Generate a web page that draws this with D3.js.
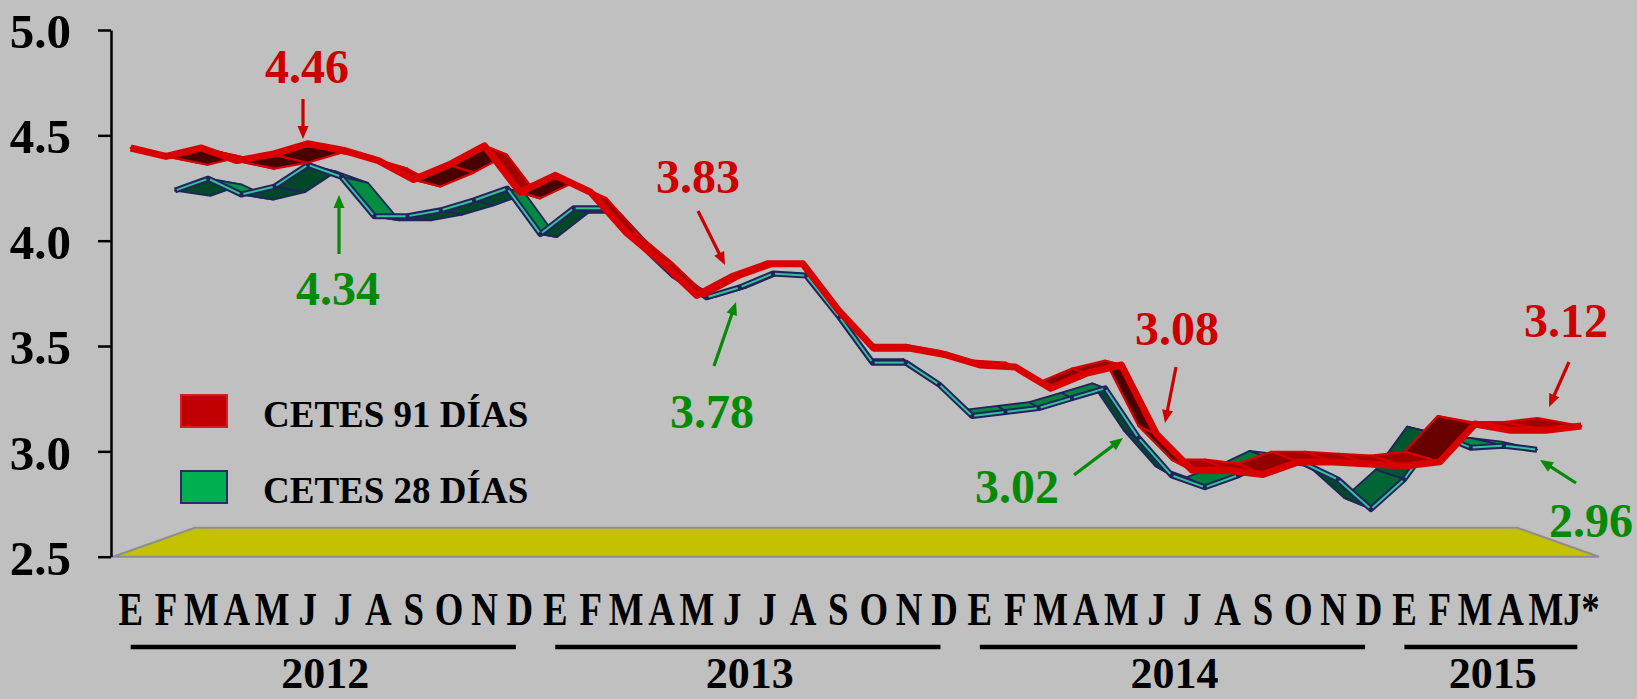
<!DOCTYPE html>
<html>
<head>
<meta charset="utf-8">
<script src="https://cdn.jsdelivr.net/npm/d3@7"></script>
<style>
html,body{margin:0;padding:0;background:#c0c0c0;}
svg{display:block;font-family:"Liberation Serif","Times New Roman",serif;font-weight:bold;}
</style>
</head>
<body>
<div id="chart"></div>
<script>
// datos mensuales, ene 2012 - jun 2015
var months = ["E","F","M","A","M","J","J","A","S","O","N","D",
              "E","F","M","A","M","J","J","A","S","O","N","D",
              "E","F","M","A","M","J","J","A","S","O","N","D",
              "E","F","M","A","M","J*"];
var years = ["2012","2013","2014","2015"];
var yearFirst = [0,12,24,36];
var yearLast = [11,23,35,41];

var cetes91 = [4.44,4.40,4.44,4.38,4.41,4.46,4.43,4.38,4.29,4.36,4.45,4.23,
               4.31,4.23,4.04,3.90,3.74,3.83,3.89,3.89,3.67,3.49,3.49,3.46,
               3.41,3.40,3.30,3.37,3.41,3.08,2.91,2.91,2.89,2.95,2.95,2.94,
               2.93,2.95,3.13,3.10,3.10,3.12];
var cetes28 = [4.27,4.33,4.25,4.29,4.40,4.34,4.14,4.14,4.17,4.22,4.28,4.05,
               4.18,4.18,4.00,3.84,3.73,3.78,3.85,3.84,3.63,3.40,3.40,3.29,
               3.13,3.15,3.17,3.22,3.27,3.02,2.83,2.77,2.83,2.91,2.89,2.81,
               2.66,2.81,3.04,2.97,2.98,2.96];
var yTicks = [2.5,3.0,3.5,4.0,4.5,5.0];
var seriesNames = ["CETES 91 DÍAS","CETES 28 DÍAS"];

// flechas con el dato señalado
var notes = [
  {s:0, i:5,  tx:307,  ty:83,  x1:303,  y1:99,  x2:303,  y2:139},
  {s:1, i:5,  tx:338,  ty:305, x1:339,  y1:254, x2:339,  y2:195},
  {s:0, i:17, tx:698,  ty:193, x1:698,  y1:211, x2:725,  y2:265},
  {s:1, i:17, tx:712,  ty:428, x1:714,  y1:366, x2:736,  y2:302},
  {s:0, i:29, tx:1177, ty:345, x1:1176, y1:367, x2:1165, y2:423},
  {s:1, i:29, tx:1017, ty:503, x1:1074, y1:475, x2:1123, y2:438},
  {s:0, i:41, tx:1566, ty:337, x1:1569, y1:362, x2:1549, y2:407},
  {s:1, i:41, tx:1591, ty:537, x1:1576, y1:483, x2:1540, y2:460}
];

var W = 1637, H = 699;
var VX = 856, VY = 294, K = 0.1236;   // punto de fuga / perspectiva

var svg = d3.select("#chart").append("svg")
    .attr("width", W).attr("height", H);
svg.append("rect").attr("width", W).attr("height", H).attr("fill", "#c0c0c0");

var x = d3.scalePoint().domain(d3.range(months.length)).range([113, 1599]).padding(0.5);
var y = d3.scaleLinear().domain([2.5, 5]).range([556.7, 30]);

function P(xf, yf, z){
    var f = 1 / (1 + K * z);
    return [VX + (xf - VX) * f, VY + (yf - VY) * f];
}

// piso
var xr = x.range(), y0 = y(2.5);
svg.append("polygon")
    .attr("points", [P(xr[0], y0, 0), P(xr[1], y0, 0), P(xr[1], y0, 1), P(xr[0], y0, 1)].join(" "))
    .attr("fill", "#c4c200")
    .attr("stroke", "#8e8e8e")
    .attr("stroke-width", 2);

// eje Y
var yAxis = d3.axisLeft(y).tickValues(yTicks).tickFormat(d3.format(".1f"))
    .tickSize(13).tickSizeOuter(0).tickPadding(27);
var gy = svg.append("g").attr("transform", "translate(111,0)").call(yAxis);
gy.select(".domain").attr("stroke", "#000").attr("stroke-width", 2.5);
gy.selectAll(".tick line").attr("stroke", "#000").attr("stroke-width", 2.5);
gy.selectAll(".tick text")
    .attr("fill", "#000")
    .attr("font-family", "Liberation Serif, Times New Roman, serif")
    .attr("font-weight", "bold")
    .attr("font-size", 49)
    .attr("dy", "0.36em");

var L = [0.45, 1];
var Ln = Math.hypot(L[0], L[1]);

function ribbon(vals, z0, z1, dark, bright, edge, ew){
    var g = svg.append("g");
    var shade = d3.interpolateRgb(dark, bright);
    var segs = d3.range(vals.length - 1).sort(function(a, b){
        return Math.abs((x(b) + x(b + 1)) / 2 - VX) - Math.abs((x(a) + x(a + 1)) / 2 - VX);
    });
    segs.forEach(function(i){
        var pts = [P(x(i), y(vals[i]), z0), P(x(i + 1), y(vals[i + 1]), z0),
                   P(x(i + 1), y(vals[i + 1]), z1), P(x(i), y(vals[i]), z1)];
        var s2 = 0;
        for (var k = 0; k < 4; k++){
            var p = pts[k], q = pts[(k + 1) % 4];
            s2 += p[0] * q[1] - q[0] * p[1];
        }
        var top = s2 < 0;
        var s = (y(vals[i]) - y(vals[i + 1])) / (x(i + 1) - x(i));
        var b = (-s * L[0] + L[1]) / Math.hypot(s, 1) / Ln;
        var c = top ? shade(Math.max(0, b)) : shade(0);
        g.append("polygon")
            .attr("points", pts.join(" "))
            .attr("fill", c)
            .attr("stroke", edge)
            .attr("stroke-width", ew)
            .attr("stroke-linejoin", "round");
    });
    return g;
}

var frontLine = d3.line().x(function(d){ return d[0]; }).y(function(d){ return d[1]; });

// CETES 28 (atras)
var gG = ribbon(cetes28, 0.526, 1.0, "#00472a", "#009444", "#20235c", 1.8);
var front28 = cetes28.map(function(v, i){ return P(x(i), y(v), 0.526); });
gG.append("path").attr("d", frontLine(front28)).attr("fill", "none")
    .attr("stroke", "#20235c").attr("stroke-width", 6).attr("stroke-linejoin", "round");
for (var i = 0; i < front28.length - 1; i++){
    var a = front28[i], b = front28[i + 1];
    var dx = b[0] - a[0], dy = b[1] - a[1], len = Math.hypot(dx, dy), u = 2 / len;
    gG.append("line")
        .attr("x1", a[0] + dx * u).attr("y1", a[1] + dy * u)
        .attr("x2", b[0] - dx * u).attr("y2", b[1] - dy * u)
        .attr("stroke", "#35c29a").attr("stroke-width", 2);
}

// CETES 91 (adelante)
var gR = ribbon(cetes91, 0, 0.52, "#480000", "#b00000", "#d60000", 2.2);
var front91 = cetes91.map(function(v, i){ return P(x(i), y(v), 0); });
gR.append("path").attr("d", frontLine(front91)).attr("fill", "none")
    .attr("stroke", "#d80000").attr("stroke-width", 7).attr("stroke-linejoin", "round");

// meses
svg.append("g").selectAll("text").data(months).enter().append("text")
    .attr("transform", function(d, i){ return "translate(" + x(i) + ",625) scale(0.8,1)"; })
    .attr("text-anchor", "middle")
    .attr("font-size", 46)
    .attr("fill", "#000")
    .text(function(d){ return d; });

// años
var gYr = svg.append("g");
years.forEach(function(yr, k){
    var xa = x(yearFirst[k]), xb = x(yearLast[k]);
    gYr.append("line").attr("x1", xa).attr("x2", xb - 4).attr("y1", 647).attr("y2", 647)
        .attr("stroke", "#000").attr("stroke-width", 4.5);
    gYr.append("text").attr("x", (xa + xb) / 2).attr("y", 688)
        .attr("text-anchor", "middle").attr("font-size", 44).attr("fill", "#000")
        .text(yr);
});

// leyenda
var legColors = [{fill:"#c00000", stroke:"#d22020"}, {fill:"#00b050", stroke:"#2a2b66"}];
var gL = svg.append("g");
seriesNames.forEach(function(n, k){
    var yy = 395 + k * 76;
    gL.append("rect").attr("x", 181).attr("y", yy).attr("width", 46).attr("height", 32)
        .attr("fill", legColors[k].fill).attr("stroke", legColors[k].stroke).attr("stroke-width", 2);
    gL.append("text").attr("x", 263).attr("y", yy + 32)
        .attr("font-size", 37).attr("fill", "#000").text(n);
});

// anotaciones
var noteColor = ["#cc0000", "#058a05"];
var fmt = d3.format(".2f");
var gN = svg.append("g");
notes.forEach(function(n){
    var vals = n.s === 0 ? cetes91 : cetes28;
    var col = noteColor[n.s];
    gN.append("text").attr("x", n.tx).attr("y", n.ty).attr("text-anchor", "middle")
        .attr("font-size", 48).attr("fill", col).text(fmt(vals[n.i]));
    var dx = n.x2 - n.x1, dy = n.y2 - n.y1, len = Math.hypot(dx, dy);
    var ux = dx / len, uy = dy / len, hl = 13, hw = 5.5;
    var bx = n.x2 - ux * hl, by = n.y2 - uy * hl;
    gN.append("line").attr("x1", n.x1).attr("y1", n.y1).attr("x2", bx + ux * 2).attr("y2", by + uy * 2)
        .attr("stroke", col).attr("stroke-width", 3.2);
    gN.append("polygon")
        .attr("points", [[n.x2, n.y2], [bx - uy * hw, by + ux * hw], [bx + uy * hw, by - ux * hw]].join(" "))
        .attr("fill", col);
});
</script>
</body>
</html>
